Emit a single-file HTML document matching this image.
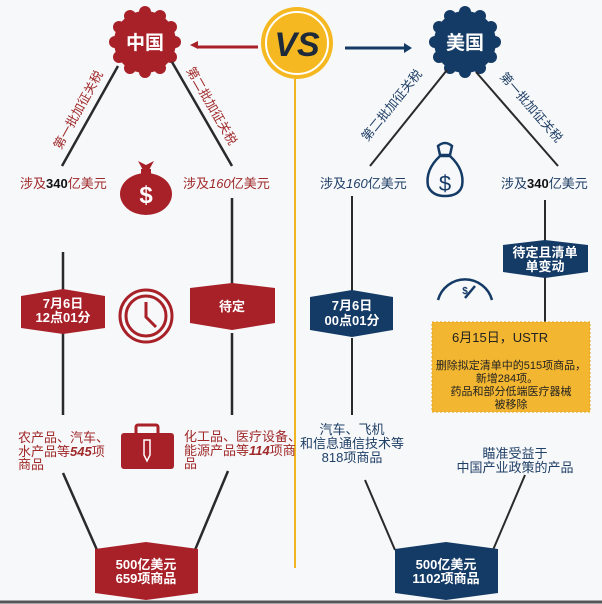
<!DOCTYPE html>
<html><head><meta charset="utf-8"><style>
body{margin:0;background:#f7f8fa;}
svg{display:block;font-family:"Liberation Sans","Noto Sans CJK SC",sans-serif;}
</style></head><body>
<svg width="602" height="604" viewBox="0 0 602 604" xmlns="http://www.w3.org/2000/svg">
<rect width="602" height="604" fill="#f7f8fa"/>
<line x1="0" y1="602" x2="602" y2="602" stroke="#555" stroke-width="3"/>
<line x1="295" y1="78" x2="295" y2="568" stroke="#f2b623" stroke-width="2"/>
<line x1="198" y1="47" x2="258" y2="47" stroke="#a82128" stroke-width="3"/>
<polygon points="190,45 198,41 198,49" fill="#a82128"/>
<line x1="345" y1="48" x2="404" y2="48" stroke="#143a66" stroke-width="3"/>
<polygon points="412,48 404,43 404,53" fill="#143a66"/>
<circle cx="297" cy="43" r="36" fill="#f5b820"/>
<circle cx="297" cy="43" r="31" fill="none" stroke="#fff" stroke-width="2"/>
<text x="297" y="56" text-anchor="middle" font-size="34" font-weight="bold" font-style="italic" fill="#1e2a3a">VS</text>
<g fill="#a82128" transform="translate(145,42)">
<circle r="31"/>
<circle cx="30" cy="0" r="6"/><circle cx="26" cy="15" r="6"/><circle cx="15" cy="26" r="6"/><circle cx="0" cy="30" r="6"/><circle cx="-15" cy="26" r="6"/><circle cx="-26" cy="15" r="6"/><circle cx="-30" cy="0" r="6"/><circle cx="-26" cy="-15" r="6"/><circle cx="-15" cy="-26" r="6"/><circle cx="0" cy="-30" r="6"/><circle cx="15" cy="-26" r="6"/><circle cx="26" cy="-15" r="6"/>
<text y="7" text-anchor="middle" font-size="19" font-weight="bold" fill="#fff">中国</text>
</g>
<g fill="#143a66" transform="translate(465,42)">
<circle r="31"/>
<circle cx="30" cy="0" r="6"/><circle cx="26" cy="15" r="6"/><circle cx="15" cy="26" r="6"/><circle cx="0" cy="30" r="6"/><circle cx="-15" cy="26" r="6"/><circle cx="-26" cy="15" r="6"/><circle cx="-30" cy="0" r="6"/><circle cx="-26" cy="-15" r="6"/><circle cx="-15" cy="-26" r="6"/><circle cx="0" cy="-30" r="6"/><circle cx="15" cy="-26" r="6"/><circle cx="26" cy="-15" r="6"/>
<text y="7" text-anchor="middle" font-size="19" font-weight="bold" fill="#fff">美国</text>
</g>
<g stroke="#2a2a2a" stroke-width="2.5">
<line x1="118" y1="66" x2="62" y2="166"/>
<line x1="172" y1="62" x2="232" y2="166"/>
<line x1="63" y1="252" x2="63" y2="292"/>
<line x1="63" y1="333" x2="63" y2="415"/>
<line x1="232" y1="198" x2="232" y2="285"/>
<line x1="232" y1="333" x2="232" y2="415"/>
<line x1="63" y1="473" x2="97" y2="550"/>
<line x1="228" y1="471" x2="195" y2="550"/>
</g>
<g stroke="#2a2a2a" stroke-width="2">
<line x1="447" y1="70" x2="370" y2="166"/>
<line x1="476" y1="72" x2="558" y2="166"/>
<line x1="352" y1="196" x2="352" y2="292"/>
<line x1="352" y1="338" x2="352" y2="415"/>
<line x1="545" y1="200" x2="545" y2="242"/>
<line x1="545" y1="276" x2="545" y2="324"/>
<line x1="365" y1="480" x2="395" y2="550"/>
<line x1="525" y1="475" x2="493" y2="550"/>
</g>
<text transform="translate(82,112) rotate(-61)" text-anchor="middle" font-size="12.5" fill="#a02a2a">第一批加征关税</text>
<text transform="translate(208,108) rotate(60)" text-anchor="middle" font-size="12.5" fill="#a02a2a">第二批加征关税</text>
<text transform="translate(395,108) rotate(-51)" text-anchor="middle" font-size="12.5" fill="#1f3f66">第二批加征关税</text>
<text transform="translate(528,110) rotate(49)" text-anchor="middle" font-size="12.5" fill="#1f3f66">第一批加征关税</text>
<text x="20" y="188" font-size="13" fill="#a02a2a">涉及<tspan font-weight="bold" fill="#111">340</tspan>亿美元</text>
<text x="183" y="188" font-size="13" fill="#a02a2a">涉及<tspan font-style="italic">160</tspan>亿美元</text>
<text x="320" y="188" font-size="13" fill="#1f3f66">涉及<tspan font-style="italic">160</tspan>亿美元</text>
<text x="501" y="188" font-size="13" fill="#1f3f66">涉及<tspan font-weight="bold" fill="#111">340</tspan>亿美元</text>
<g fill="#a82128">
<path d="M138,161 L143,170 L149,170 L154,161 L146,165 Z"/>
<ellipse cx="146" cy="194" rx="26" ry="21"/>
<rect x="141" y="169" width="10" height="6"/>
<text x="146" y="203" text-anchor="middle" font-size="24" font-weight="bold" fill="#fff">$</text>
</g>
<g fill="none" stroke="#143a66" stroke-width="2.5">
<path d="M438,146 Q445,140 452,146 L450,155 L440,155 Z"/>
<path d="M440,156 Q425,170 428,186 Q432,196 445,196 Q459,196 462,186 Q465,170 450,156 Z"/>
<text x="445" y="191" text-anchor="middle" font-size="22" fill="#143a66" stroke="none">$</text>
</g>
<circle cx="146" cy="316" r="26" fill="none" stroke="#a82128" stroke-width="3"/>
<circle cx="146" cy="316" r="20" fill="none" stroke="#a82128" stroke-width="3"/>
<polyline points="146,302 146,317 156,327" fill="none" stroke="#a82128" stroke-width="3"/>
<g fill="none" stroke="#143a66" stroke-width="2.5">
<path d="M438,300 A28,28 0 0 1 492,300"/>
<line x1="465" y1="298" x2="475" y2="286"/>
</g>
<text x="465" y="294" text-anchor="middle" font-size="10" font-weight="bold" fill="#143a66">$</text>
<rect x="121" y="433" width="53" height="36" rx="3" fill="#a82128"/>
<rect x="136" y="425" width="22" height="10" rx="2" fill="none" stroke="#a82128" stroke-width="3"/>
<path d="M144,440 L150,440 L150,455 L147,461 L144,455 Z" fill="none" stroke="#fff" stroke-width="1.5"/>
<polygon points="21,296 63,289 105,296 105,328 63,334 21,328" fill="#a82128"/>
<text x="63" y="308" text-anchor="middle" font-size="13" font-weight="bold" fill="#fff">7月6日</text>
<text x="63" y="322" text-anchor="middle" font-size="13" font-weight="bold" fill="#fff">12点01分</text>
<polygon points="190,288 232,283 275,288 275,323 232,330 190,323" fill="#a82128"/>
<text x="232" y="311" text-anchor="middle" font-size="13" font-weight="bold" fill="#fff">待定</text>
<polygon points="310,297 352,290 393,297 393,330 352,337 310,330" fill="#143a66"/>
<text x="352" y="310" text-anchor="middle" font-size="13" font-weight="bold" fill="#fff">7月6日</text>
<text x="352" y="325" text-anchor="middle" font-size="13" font-weight="bold" fill="#fff">00点01分</text>
<polygon points="503,245 545,240 588,245 588,272 545,278 503,272" fill="#143a66"/>
<text x="545" y="257" text-anchor="middle" font-size="13" font-weight="bold" fill="#fff">待定且清单</text>
<text x="545" y="271" text-anchor="middle" font-size="13" font-weight="bold" fill="#fff">单变动</text>
<rect x="432" y="322" width="158" height="90" fill="#f2b630" stroke="#e6a21f" stroke-dasharray="2,2"/>
<text x="452" y="342" font-size="13" fill="#222">6月15日，USTR</text>
<text x="511" y="369" text-anchor="middle" font-size="11" fill="#222">删除拟定清单中的515项商品，</text>
<text x="507" y="382" text-anchor="middle" font-size="11" fill="#222">新增284项。</text>
<text x="511" y="395" text-anchor="middle" font-size="11" fill="#222">药品和部分低端医疗器械</text>
<text x="511" y="408" text-anchor="middle" font-size="11" fill="#222">被移除</text>
<g font-size="13" fill="#a02a2a">
<text x="18" y="442">农产品、汽车、</text>
<text x="18" y="456">水产品等<tspan font-style="italic" font-weight="bold">545</tspan>项</text>
<text x="18" y="469">商品</text>
<text x="184" y="441">化工品、医疗设备、</text>
<text x="184" y="455">能源产品等<tspan font-style="italic" font-weight="bold">114</tspan>项商</text>
<text x="184" y="468">品</text>
</g>
<g font-size="13" fill="#1f3f66" text-anchor="middle">
<text x="352" y="434">汽车、飞机</text>
<text x="352" y="448">和信息通信技术等</text>
<text x="352" y="462">818项商品</text>
<text x="515" y="458">瞄准受益于</text>
<text x="515" y="472">中国产业政策的产品</text>
</g>
<polygon points="95,549 146,542 198,549 198,593 146,600 95,593" fill="#a82128"/>
<text x="146" y="569" text-anchor="middle" font-size="13" font-weight="bold" fill="#fff">500亿美元</text>
<text x="146" y="583" text-anchor="middle" font-size="13" font-weight="bold" fill="#fff">659项商品</text>
<polygon points="395,549 446,542 498,549 498,593 446,600 395,593" fill="#143a66"/>
<text x="446" y="569" text-anchor="middle" font-size="13" font-weight="bold" fill="#fff">500亿美元</text>
<text x="446" y="583" text-anchor="middle" font-size="13" font-weight="bold" fill="#fff">1102项商品</text>
</svg>
</body></html>
